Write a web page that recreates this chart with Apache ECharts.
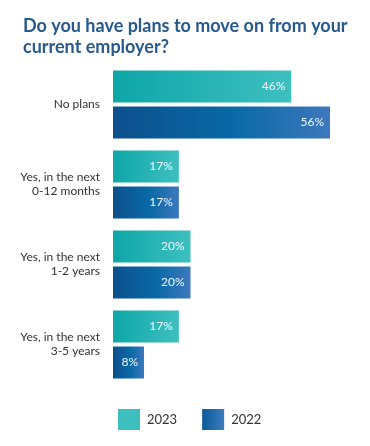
<!DOCTYPE html>
<html>
<head>
<meta charset="utf-8">
<script src="https://cdn.jsdelivr.net/npm/echarts@6/dist/echarts.min.js"></script>
<style>
html,body{margin:0;padding:0;background:#fff;}
#chart{width:370px;height:446px;}
</style>
</head>
<body>
<div id="chart"></div>
<script>
const categories = ['No plans', 'Yes, in the next\n0-12 months', 'Yes, in the next\n1-2 years', 'Yes, in the next\n3-5 years'];
const values2023 = [46, 17, 20, 17];
const values2022 = [56, 17, 20, 8];
const seriesNames = ['2023', '2022'];

const FONT = 'Lato';
const grad2023 = new echarts.graphic.LinearGradient(0, 0, 1, 0, [
  {offset: 0, color: '#0ea6a7'}, {offset: 1, color: '#3ebfc0'}
]);
const grad2022 = new echarts.graphic.LinearGradient(0, 0, 1, 0, [
  {offset: 0, color: '#0c4f8c'}, {offset: 0.55, color: '#0869a6'}, {offset: 1, color: '#3d78bd'}
]);
const legendGrad2022 = new echarts.graphic.LinearGradient(0, 0, 1, 0, [
  {offset: 0, color: '#0b5a97'}, {offset: 1, color: '#3d7cc0'}
]);

const chart = echarts.init(document.getElementById('chart'));
const labelCfg = {
  show: true, position: 'insideRight', distance: 6,
  color: '#f2fbff', fontFamily: FONT, fontSize: 12,
  formatter: '{c}%'
};
chart.setOption({
  animation: false,
  backgroundColor: '#ffffff',
  title: {
    text: 'Do you have plans to move on from your\ncurrent employer?',
    left: 18, top: 11,
    textStyle: {fontFamily: FONT, fontWeight: 'bold', fontSize: 18, lineHeight: 21, color: '#27598c'}
  },
  legend: {
    left: 113, top: 404,
    itemWidth: 22, itemHeight: 21, itemGap: 25,
    textStyle: {fontFamily: FONT, fontSize: 13, color: '#333333', padding: [0, 0, 0, 2]},
    data: [
      {name: seriesNames[0], icon: 'rect', itemStyle: {color: '#3dbfc0'}},
      {name: seriesNames[1], icon: 'rect', itemStyle: {color: legendGrad2022}}
    ]
  },
  grid: {left: 113, right: 24.5, top: 64.5, height: 320, containLabel: false},
  xAxis: {type: 'value', min: 0, max: 60, show: false},
  yAxis: {
    type: 'category', data: categories, inverse: true,
    axisLine: {show: false}, axisTick: {show: false},
    axisLabel: {fontFamily: FONT, fontSize: 12, color: '#333333', lineHeight: 14, margin: 13, align: 'right'}
  },
  series: [
    {name: seriesNames[0], type: 'bar', data: values2023, barWidth: 32, barGap: '12.5%',
     itemStyle: {color: grad2023}, label: labelCfg},
    {name: seriesNames[1], type: 'bar', data: values2022, barWidth: 32, barGap: '12.5%',
     itemStyle: {color: grad2022}, label: labelCfg}
  ]
});
</script>
</body>
</html>
